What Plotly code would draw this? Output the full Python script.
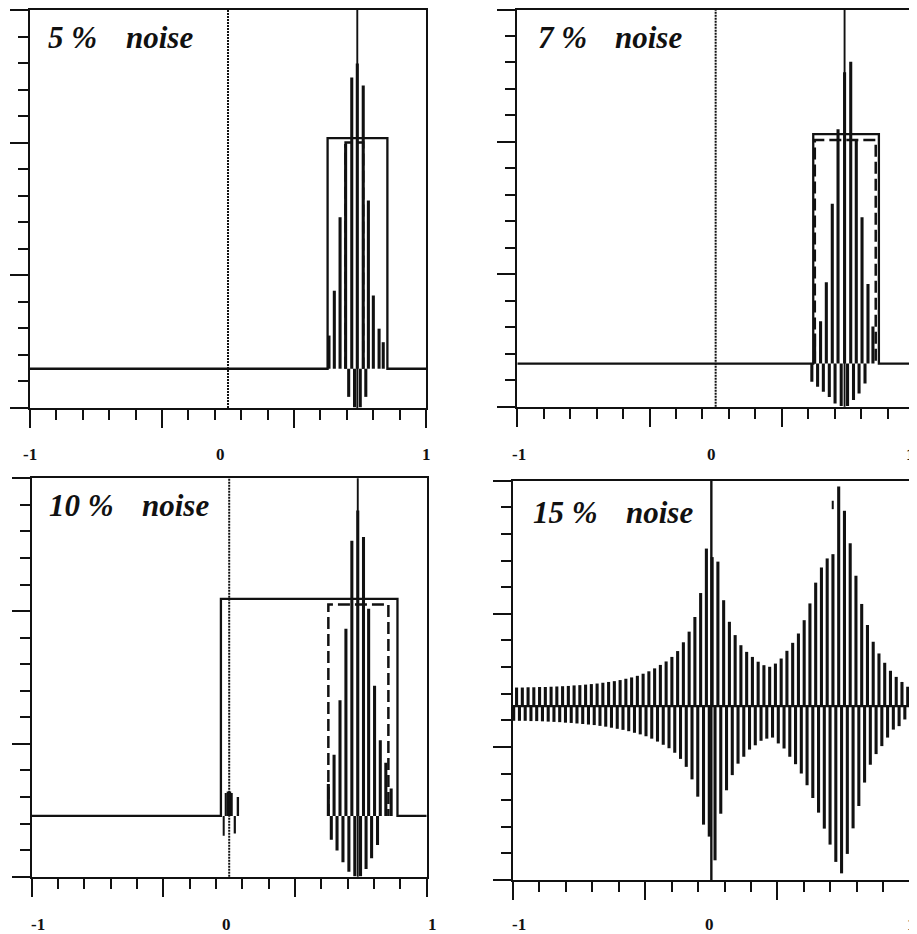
import plotly.graph_objects as go
from plotly.subplots import make_subplots

# ---------------- data ----------------
noise_levels = ["5 %", "7 %", "10 %", "15 %"]
tick_labels = ["-1", "0", "1"]
tick_label_x = [-1.0, 0.0, 1.0]

# true support (solid box): left, right, height
box_5 = [0.503, 0.805, 8.69]
box_7 = [0.492, 0.823, 8.66]
box_10 = [-0.042, 0.852, 8.17]
# estimated support (dashed box): left, right, height
est_5 = [0.594, 0.683, 8.53]
est_7 = [0.500, 0.807, 8.44]
est_10 = [0.502, 0.806, 7.96]

true_freq = [0.653, 0.650, 0.651]   # solid vertical marker in 5, 7, 10 % panels
origin_x = 0.0

# 5 % noise reconstruction (spike positions and signed heights)
sig5_x = [0.510, 0.537, 0.566, 0.594, 0.6095, 0.625, 0.639,
          0.653, 0.668, 0.683, 0.696, 0.709, 0.734, 0.763, 0.784]
sig5_y = [1.25, 2.94, 5.71, 8.47, -1.06, 10.98, -1.45,
          11.5, -1.45, 10.67, -1.06, 6.34, 2.76, 1.51, 1.0]

# 7 % noise reconstruction
sig7_x = [0.485, 0.499, 0.514, 0.529, 0.543, 0.558, 0.573, 0.588, 0.602, 0.617, 0.633,
          0.650, 0.665, 0.681, 0.695, 0.709, 0.723, 0.738, 0.753, 0.768, 0.793]
sig7_y = [-0.69, 1.13, -0.88, 1.60, -1.07, 3.07, -1.26, 6.03, -1.51, 8.85, -1.60,
          11.0, -1.60, 11.4, -1.38, 8.40, -1.13, 5.52, -0.75, 3.00, 1.40]

# 10 % noise reconstruction
sig10_x = [0.502, 0.517, 0.531, 0.546, 0.561, 0.576, 0.591, 0.606, 0.621, 0.636, 0.651, 0.665,
           0.680, 0.693, 0.706, 0.721, 0.736, 0.751, 0.765, 0.793, 0.820]
sig10_y = [1.2, -0.9, 2.3, -1.3, 4.35, -1.75, 7.05, -2.1, 10.36, -2.27, 11.5, -2.27,
           10.5, -2.0, 7.8, -1.6, 4.9, -1.1, 2.85, 2.0, 1.03]
bump10_x = [-0.027, -0.016, -0.004, 0.006, 0.014, 0.030, 0.046]
bump10_y = [-0.75, 0.86, 0.92, 0.92, 0.86, -0.66, 0.71]

# 15 % noise reconstruction: peak positions/heights and trough positions/depths
br_up_x = [-0.982, -0.953, -0.924, -0.895, -0.866, -0.837, -0.808, -0.779, -0.750, -0.721,
           -0.692, -0.663, -0.634, -0.605, -0.576, -0.547, -0.518, -0.489, -0.460, -0.431,
           -0.402, -0.373, -0.344, -0.315, -0.286, -0.257, -0.228, -0.199, -0.170, -0.141,
           -0.112, -0.083, -0.054, -0.025, 0.004, 0.033, 0.062, 0.091, 0.120, 0.149,
           0.178, 0.207, 0.236, 0.265, 0.294, 0.323, 0.352, 0.381, 0.410, 0.439,
           0.468, 0.497, 0.526, 0.555, 0.584, 0.613, 0.642, 0.671, 0.700, 0.729,
           0.758, 0.787, 0.816, 0.845, 0.874, 0.903, 0.932, 0.961, 0.990]
br_up_y = [0.70, 0.70, 0.71, 0.71, 0.72, 0.72, 0.73, 0.74, 0.75, 0.76,
           0.78, 0.79, 0.81, 0.83, 0.85, 0.88, 0.91, 0.94, 0.98, 1.03,
           1.08, 1.14, 1.22, 1.31, 1.42, 1.55, 1.68, 1.85, 2.07, 2.40,
           2.80, 3.35, 4.25, 5.92, 5.60, 5.43, 3.98, 3.17, 2.67, 2.29,
           2.04, 1.85, 1.67, 1.54, 1.48, 1.60, 1.79, 2.08, 2.38, 2.73,
           3.23, 3.86, 4.64, 5.21, 5.55, 5.71, 8.25, 7.34, 6.12, 4.90,
           3.84, 3.05, 2.42, 1.98, 1.63, 1.33, 1.10, 0.91, 0.73]
br_dn_x = [-0.9965, -0.9675, -0.9385, -0.9095, -0.8805, -0.8515, -0.8225, -0.7935, -0.7645, -0.7355,
           -0.7065, -0.6775, -0.6485, -0.6195, -0.5905, -0.5615, -0.5325, -0.5035, -0.4745, -0.4455,
           -0.4165, -0.3875, -0.3585, -0.3295, -0.3005, -0.2715, -0.2425, -0.2135, -0.1845, -0.1555,
           -0.1265, -0.0975, -0.0685, -0.0395, -0.0105, 0.0185, 0.0475, 0.0765, 0.1055, 0.1345,
           0.1635, 0.1925, 0.2215, 0.2505, 0.2795, 0.3085, 0.3375, 0.3665, 0.3955, 0.4245,
           0.4535, 0.4825, 0.5115, 0.5405, 0.5695, 0.5985, 0.6275, 0.6565, 0.6855, 0.7145,
           0.7435, 0.7725, 0.8015, 0.8305, 0.8595, 0.8885, 0.9175, 0.9465, 0.9755]
br_dn_y = [0.55, 0.55, 0.55, 0.56, 0.56, 0.57, 0.58, 0.59, 0.60, 0.62,
           0.63, 0.65, 0.67, 0.69, 0.71, 0.74, 0.77, 0.81, 0.85, 0.89,
           0.94, 1.00, 1.06, 1.13, 1.22, 1.33, 1.45, 1.58, 1.75, 1.98,
           2.28, 2.75, 3.40, 4.45, 4.90, 5.79, 4.04, 3.16, 2.59, 2.16,
           1.90, 1.63, 1.47, 1.30, 1.22, 1.18, 1.40, 1.59, 1.90, 2.18,
           2.53, 2.97, 3.45, 4.00, 4.60, 5.20, 5.85, 6.28, 5.55, 4.59,
           3.75, 2.87, 2.20, 1.80, 1.50, 1.18, 0.88, 0.75, 0.50]
br_mark_x = [0.612, 0.612]
br_mark_y = [7.40, 7.72]

# ---------------- layout geometry ----------------
OFF = 8                      # page body margin of the html page
W, H = 917 - OFF, 934 - OFF  # figure size so that the figure ends at the window edge
frames = [(30.0, 426.0, 10.0, 408.0),      # 5 %   (window pixels: left, right, top, bottom)
          (517.3, 914.0, 9.5, 406.7),      # 7 %
          (31.7, 426.7, 478.3, 876.7),     # 10 %
          (513.0, 909.7, 480.7, 880.0)]    # 15 %
ybase = [1.48, 1.63, 2.29, 6.53]
label_y_px = [454, 454, 924, 924]
label_shift = [[0, -8, 0], [2, -4, -4], [6, -3, 6], [6, -2, 2]]
title_pos = [(46, 124, 38), (536, 613, 38), (47, 140, 505), (531, 624, 512)]

INK = "#111111"
BAR_W = 0.0155

fig = make_subplots(rows=2, cols=2)
cells = [(1, 1), (1, 2), (2, 1), (2, 2)]


def px_x(p):
    return (p - OFF) / W


def px_y(p):
    return 1 - (p - OFF) / H


def line(x, y, width=2.0, dash=None):
    return go.Scatter(x=x, y=y, mode="lines", hoverinfo="skip", showlegend=False,
                      line=dict(color=INK, width=width, dash=dash))


def spikes(x, y, w=BAR_W):
    return go.Bar(x=x, y=y, width=w, hoverinfo="skip", showlegend=False,
                  marker=dict(color=INK, line=dict(width=0)))


def solid_box(b):
    left, right, h = b
    return [-1.0, left, left, right, right, 1.0], [0.0, 0.0, h, h, 0.0, 0.0]


def dashed_box(b):
    left, right, h = b
    return [left, left, right, right], [0.0, h, h, 0.0]


boxes = [box_5, box_7, box_10]
ests = [est_5, est_7, est_10]
sigs = [(sig5_x, sig5_y), (sig7_x, sig7_y), (sig10_x, sig10_y)]

for i in range(3):
    r, c = cells[i]
    fig.add_trace(spikes(sigs[i][0], sigs[i][1]), row=r, col=c)
    bx, by = solid_box(boxes[i])
    fig.add_trace(line(bx, by, 2.3), row=r, col=c)
    ex, ey = dashed_box(ests[i])
    fig.add_trace(line(ex, ey, 2.5, "12px,5px"), row=r, col=c)
    fig.add_vline(x=true_freq[i], line=dict(color=INK, width=1.9), row=r, col=c)
    fig.add_vline(x=origin_x, line=dict(color=INK, width=2, dash="2px,1px"), row=r, col=c)

fig.add_trace(spikes(bump10_x, bump10_y, 0.008), row=2, col=1)

# 15 % panel
fig.add_trace(spikes(br_up_x, br_up_y), row=2, col=2)
fig.add_trace(spikes(br_dn_x, [-v for v in br_dn_y]), row=2, col=2)
fig.add_hline(y=0.0, line=dict(color=INK, width=2.4), row=2, col=2)
fig.add_trace(line(br_mark_x, br_mark_y, 2.0), row=2, col=2)
fig.add_vline(x=origin_x, line=dict(color=INK, width=2.4), row=2, col=2)

# ---------------- axes ----------------
x_major = [-1.0, -1.0 / 3.0, 1.0 / 3.0, 1.0]
axes = {}
for i, (x0, x1, y0, y1) in enumerate(frames):
    n = "" if i == 0 else str(i + 1)
    b = ybase[i]
    axes["xaxis" + n] = dict(
        domain=[px_x(x0), px_x(x1)], range=[-1, 1], showline=True, mirror=True,
        linecolor=INK, linewidth=2, showgrid=False, zeroline=False,
        ticks="outside", tickmode="array", tickvals=x_major, ticklen=18, tickwidth=2,
        tickcolor=INK, showticklabels=False,
        minor=dict(ticks="outside", tickmode="linear", tick0=-1, dtick=2.0 / 15.0,
                   ticklen=10, tickwidth=2, tickcolor=INK, showgrid=False))
    axes["yaxis" + n] = dict(
        domain=[px_y(y1), px_y(y0)], range=[-b, 15 - b], showline=True, mirror=True,
        linecolor=INK, linewidth=2, showgrid=False, zeroline=False,
        ticks="outside", tickmode="array", tickvals=[-b, 5 - b, 10 - b, 15 - b],
        ticklen=18, tickwidth=2, tickcolor=INK, showticklabels=False,
        minor=dict(ticks="outside", tickmode="linear", tick0=-b, dtick=1,
                   ticklen=10, tickwidth=2, tickcolor=INK, showgrid=False))

annotations = []
for i in range(4):
    xr = "x" if i == 0 else "x" + str(i + 1)
    for lab, xv, sh in zip(tick_labels, tick_label_x, label_shift[i]):
        annotations.append(dict(
            text="<b>" + lab + "</b>", x=xv, xref=xr, xshift=sh,
            y=px_y(label_y_px[i]), yref="paper",
            xanchor="center", yanchor="middle", showarrow=False,
            font=dict(family="Liberation Serif", size=17, color=INK)))
    lx, nx, cy = title_pos[i]
    annotations.append(dict(
        text="<b><i>" + noise_levels[i] + "</i></b>", x=px_x(lx), xref="paper",
        y=px_y(cy), yref="paper", xanchor="left", yanchor="middle", showarrow=False,
        font=dict(family="Liberation Serif", size=31, color=INK)))
    annotations.append(dict(
        text="<b><i>noise</i></b>", x=px_x(nx), xref="paper",
        y=px_y(cy), yref="paper", xanchor="left", yanchor="middle", showarrow=False,
        font=dict(family="Liberation Serif", size=31, color=INK)))

fig.update_layout(width=W, height=H, margin=dict(l=0, r=0, t=0, b=0),
                  paper_bgcolor="white", plot_bgcolor="white", barmode="overlay",
                  annotations=annotations, **axes)

fig.write_html("out.html")
